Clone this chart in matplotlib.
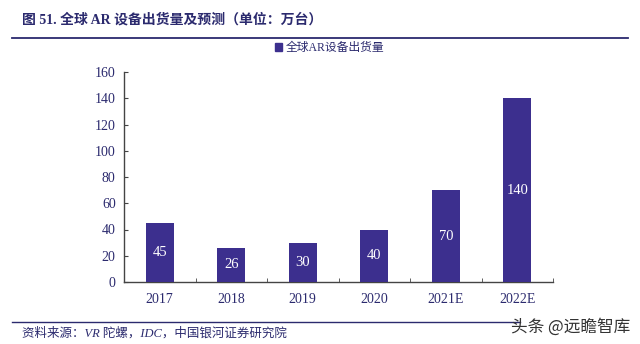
import matplotlib
matplotlib.use("Agg")
import matplotlib.pyplot as plt
from matplotlib.lines import Line2D
from matplotlib.patches import Rectangle

categories = ["2017", "2018", "2019", "2020", "2021E", "2022E"]
values = [45, 26, 30, 40, 70, 140]
yticks = [0, 20, 40, 60, 80, 100, 120, 140, 160]
series_name = "全球AR设备出货量"
title = "图 51. 全球 AR 设备出货量及预测（单位：万台）"
source = "资料来源：VR 陀螺，IDC，中国银河证券研究院"
watermark = "头条 @远瞻智库"

FAM = ["Liberation Serif", "Noto Sans CJK SC"]
plt.rcParams["font.family"] = FAM
navy = "#2B2A6E"
bar_c = "#3C2F8E"

fig = plt.figure(figsize=(6.4, 3.44), dpi=100)
W, H = 640, 344
ax = fig.add_axes([124 / W, 1 - 282 / H, (553 - 124) / W, (282 - 72) / H])

x = list(range(len(categories)))
bars = ax.bar(x, values, width=0.39, color=bar_c, zorder=3)
for xi, v in zip(x, values):
    ax.text(xi, v / 2, str(v), ha="center", va="center", color="white", fontsize=10.5)

ax.set_xlim(-0.5, len(categories) - 0.5)
ax.set_ylim(0, 160)
ax.set_yticks(yticks)
ax.set_yticklabels([str(t) for t in yticks], color=navy, fontsize=10)
ax.set_xticks(x)
ax.set_xticklabels(categories, color=navy, fontsize=10)
ax.tick_params(axis="x", length=0, pad=8)
ax.set_xticks([i + 0.5 for i in x], minor=True)
ax.tick_params(axis="x", which="minor", direction="in", length=3, color="#444444")
ax.tick_params(axis="y", direction="in", length=3, color="#444444", pad=6)
for s in ["top", "right"]:
    ax.spines[s].set_visible(False)
ax.spines["left"].set_color("#444444")
ax.spines["bottom"].set_color("#444444")
ax.spines["left"].set_linewidth(1.0)
ax.spines["bottom"].set_linewidth(1.0)

# legend
leg = ax.legend([Rectangle((0, 0), 1, 1, color=bar_c)], [series_name],
                loc="center", bbox_to_anchor=((330 - 124) / (553 - 124), (282 - 48) / 210),
                frameon=False, fontsize=8.5, handlelength=0.6, handleheight=0.6,
                handletextpad=0.3, labelcolor=navy)

# title and rules
fig.text(22 / W, 1 - 20 / H, title, fontsize=10, fontweight="bold", color=navy, va="center")
fig.add_artist(Line2D([12 / W, 628 / W], [1 - 38 / H, 1 - 38 / H], color=navy, lw=1.3))
fig.add_artist(Line2D([12 / W, 520 / W], [1 - 322 / H, 1 - 322 / H], color=navy, lw=1.0))
fig.text(22 / W, 1 - 333 / H, source, fontsize=9, style="italic", color=navy, va="center")
fig.text(630 / W, 1 - 327 / H, watermark, fontsize=12, color="#333333", va="center", ha="right",
         family=["Noto Sans CJK SC", "DejaVu Sans"])

fig.savefig("out.png", dpi=100)
